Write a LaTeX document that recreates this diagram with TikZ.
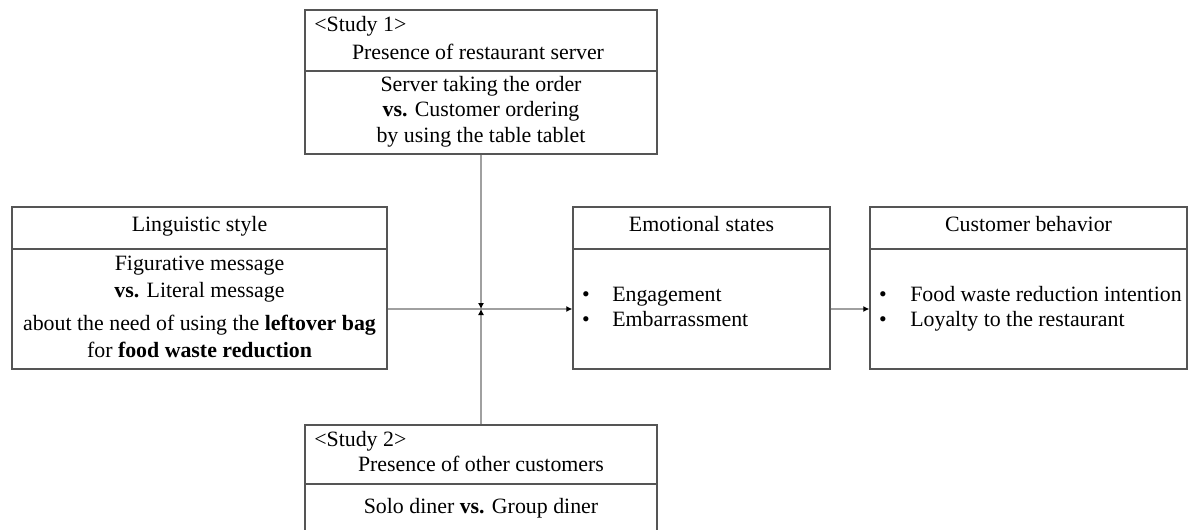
\documentclass[tikz,border=0pt]{standalone}
\usepackage{fontspec}
\setmainfont{Liberation Serif}
\usetikzlibrary{arrows.meta}
\definecolor{boxc}{RGB}{85,85,85}
\definecolor{connc}{RGB}{160,160,160}
\begin{document}
\begin{tikzpicture}[x=0.75pt,y=-0.75pt,
  box/.style={draw=boxc,line width=1.1pt,inner sep=0pt,rectangle},
  divider/.style={draw=boxc,line width=1.1pt},
  conn/.style={draw=connc,line width=0.8pt},
  tip/.style={-{Latex[length=4.5pt,width=4.5pt,color=black]}},
  txt/.style={inner sep=0pt,font=\fontsize{16.4}{19}\selectfont,text height=1.5ex,text depth=.3ex}
]
\useasboundingbox (0,0) rectangle (1197,529);
\clip (0,0) rectangle (1197,529);

% boxes
\node[box,minimum width=264pt,minimum height=108pt] (s1) at (481,82) {};
\node[box,minimum width=281.25pt,minimum height=121.5pt] (ling) at (199.5,288) {};
\node[box,minimum width=192.75pt,minimum height=121.5pt] (emo) at (701.5,288) {};
\node[box,minimum width=237.75pt,minimum height=121.5pt] (cust) at (1028.5,288) {};
\node[box,minimum width=264pt,minimum height=90pt] (s2) at (481,485) {};

% dividers
\draw[divider] (s1.west |- 0,71) -- (s1.east |- 0,71);
\draw[divider] (ling.west |- 0,249) -- (ling.east |- 0,249);
\draw[divider] (emo.west |- 0,249) -- (emo.east |- 0,249);
\draw[divider] (cust.west |- 0,249) -- (cust.east |- 0,249);
\draw[divider] (s2.west |- 0,484) -- (s2.east |- 0,484);

% Study 1 text
\node[txt,anchor=west] (s1a) at (314,28) {<Study 1>};
\node[txt] (s1b) at (478,56) {Presence of restaurant server};
\node[txt] (s1c) at (481,88) {Server taking the order};
\node[txt] (s1d) at (481,113) {\textbf{vs.} Customer ordering};
\node[txt] (s1e) at (481,139) {by using the table tablet};

% Linguistic style
\node[txt] (l0) at (199.5,228) {Linguistic style};
\node[txt] (l1) at (199.5,267) {Figurative message};
\node[txt] (l2) at (199.5,294) {\textbf{vs.} Literal message};
\node[txt] (l3) at (199.5,327) {about the need of using the \textbf{leftover bag}};
\node[txt] (l4) at (199.5,354) {for \textbf{food waste reduction}};

% Emotional states
\node[txt] (e0) at (701.5,228) {Emotional states};
\node[txt] (eb1) at (586,298) {\textbullet};
\node[txt,anchor=west] (e1) at (612,298) {Engagement};
\node[txt] (eb2) at (586,323) {\textbullet};
\node[txt,anchor=west] (e2) at (612,323) {Embarrassment};

% Customer behavior
\node[txt] (c0) at (1028.5,228) {Customer behavior};
\node[txt] (cb1) at (883,298) {\textbullet};
\node[txt,anchor=west] (c1) at (910,298) {Food waste reduction intention};
\node[txt] (cb2) at (883,323) {\textbullet};
\node[txt,anchor=west] (c2) at (910,323) {Loyalty to the restaurant};

% Study 2 text
\node[txt,anchor=west] (s2a) at (314,443) {<Study 2>};
\node[txt] (s2b) at (481,468) {Presence of other customers};
\node[txt] (s2c) at (481,510) {Solo diner \textbf{vs.} Group diner};

% connectors
\coordinate (j) at (481,309);
\draw[conn,tip] (ling.east |- j) -- (emo.west |- j);
\draw[conn,tip] (s1.south) -- (j);
\draw[conn,tip] (s2.north) -- (j);
\draw[conn,tip] (emo.east |- j) -- (cust.west |- j);
\end{tikzpicture}
\end{document}
